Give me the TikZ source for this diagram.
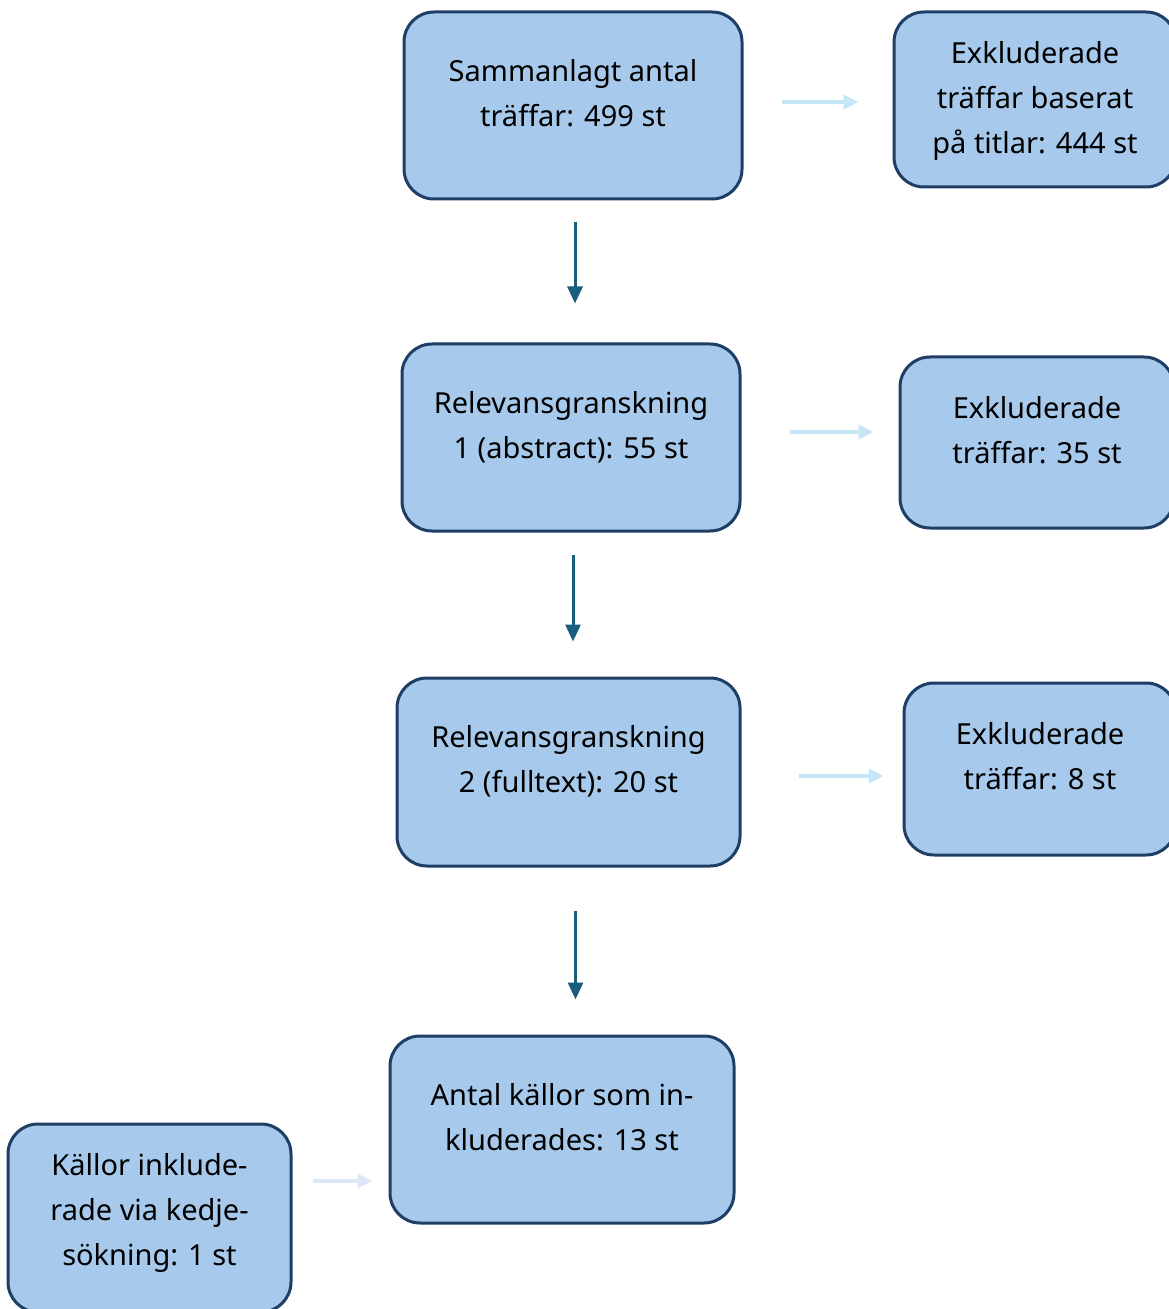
\documentclass[tikz,border=0pt]{standalone}
\usepackage{fontspec}
\setmainfont{Noto Sans}
\usetikzlibrary{arrows.meta}
\definecolor{boxfill}{HTML}{A7CAEC}
\definecolor{boxline}{HTML}{1E3E66}
\definecolor{downarrow}{HTML}{1A5E7F}
\definecolor{sidearrow}{HTML}{C4E7F6}
\definecolor{sidearrowb}{HTML}{DCE8F5}

\begin{document}
\begin{tikzpicture}[x=0.5pt,y=-0.5pt,
    box/.style={draw=boxline,fill=boxfill,line width=1.5pt,rounded corners=15pt,
      align=center,inner sep=0pt,text depth=13pt,
      font={\fontsize{14.5pt}{22.5pt}\selectfont}},
    down/.style={draw=downarrow,line width=1.5pt,-{Triangle[width=7.5pt,length=8.5pt]}},
    side/.style={draw=sidearrow,line width=2pt,-{Triangle[width=7pt,length=7.5pt]}}]
    \useasboundingbox (0,0) rectangle (1168,1309);
    % main column
    \node[box,minimum width=169pt,minimum height=93.5pt] (total) at (573,105.5)
      {Sammanlagt antal\\träffar: 499 st};
    \node[box,minimum width=169pt,minimum height=93.5pt] (screen1) at (571,437.5)
      {Relevansgranskning\\1 (abstract): 55 st};
    \node[box,minimum width=171.5pt,minimum height=94pt] (screen2) at (568.5,772)
      {Relevansgranskning\\2 (fulltext): 20 st};
    \node[box,minimum width=172pt,minimum height=93.5pt] (included) at (562,1129.5)
      {Antal källor som in-\\kluderades: 13 st};
    % excluded column
    \node[box,minimum width=141pt,minimum height=87.5pt,text depth=2pt] (excl1) at (1035,99.5)
      {Exkluderade\\träffar baserat\\på titlar: 444 st};
    \node[box,minimum width=137pt,minimum height=85.5pt] (excl2) at (1037,442.5)
      {Exkluderade\\träffar: 35 st};
    \node[box,minimum width=136pt,minimum height=86pt] (excl3) at (1040,769)
      {Exkluderade\\träffar: 8 st};
    % chain search
    \node[box,minimum width=141.5pt,minimum height=94pt,text depth=9pt] (chain) at (149.5,1218)
      {Källor inklude-\\rade via kedje-\\sökning: 1 st};

    \draw[down,shorten <=11pt,shorten >=19.5pt] ([xshift=1pt]total.south) -- ([xshift=1pt]total.south |- screen1.north);
    \draw[down,shorten <=11pt,shorten >=17.5pt] ([xshift=1pt]screen1.south) -- ([xshift=1pt]screen1.south |- screen2.north);
    \draw[down,shorten <=21.5pt,shorten >=17.5pt] ([xshift=3.5pt]screen2.south) -- ([xshift=3.5pt]screen2.south |- included.north);

    \draw[side,shorten <=19pt,shorten >=17pt] ([yshift=1.75pt]total.east) -- ([yshift=1.75pt]total.east -| excl1.west);
    \draw[side,shorten <=24pt,shorten >=12.5pt] ([yshift=2.75pt]screen1.east) -- ([yshift=2.75pt]screen1.east -| excl2.west);
    \draw[side,shorten <=28.5pt,shorten >=9.5pt] ([yshift=-2pt]screen2.east) -- ([yshift=-2pt]screen2.east -| excl3.west);
    \draw[side,draw=sidearrowb,shorten <=10pt,shorten >=8pt] ([yshift=18.5pt]chain.east) -- ([yshift=18.5pt]chain.east -| included.west);
\end{tikzpicture}
\end{document}
